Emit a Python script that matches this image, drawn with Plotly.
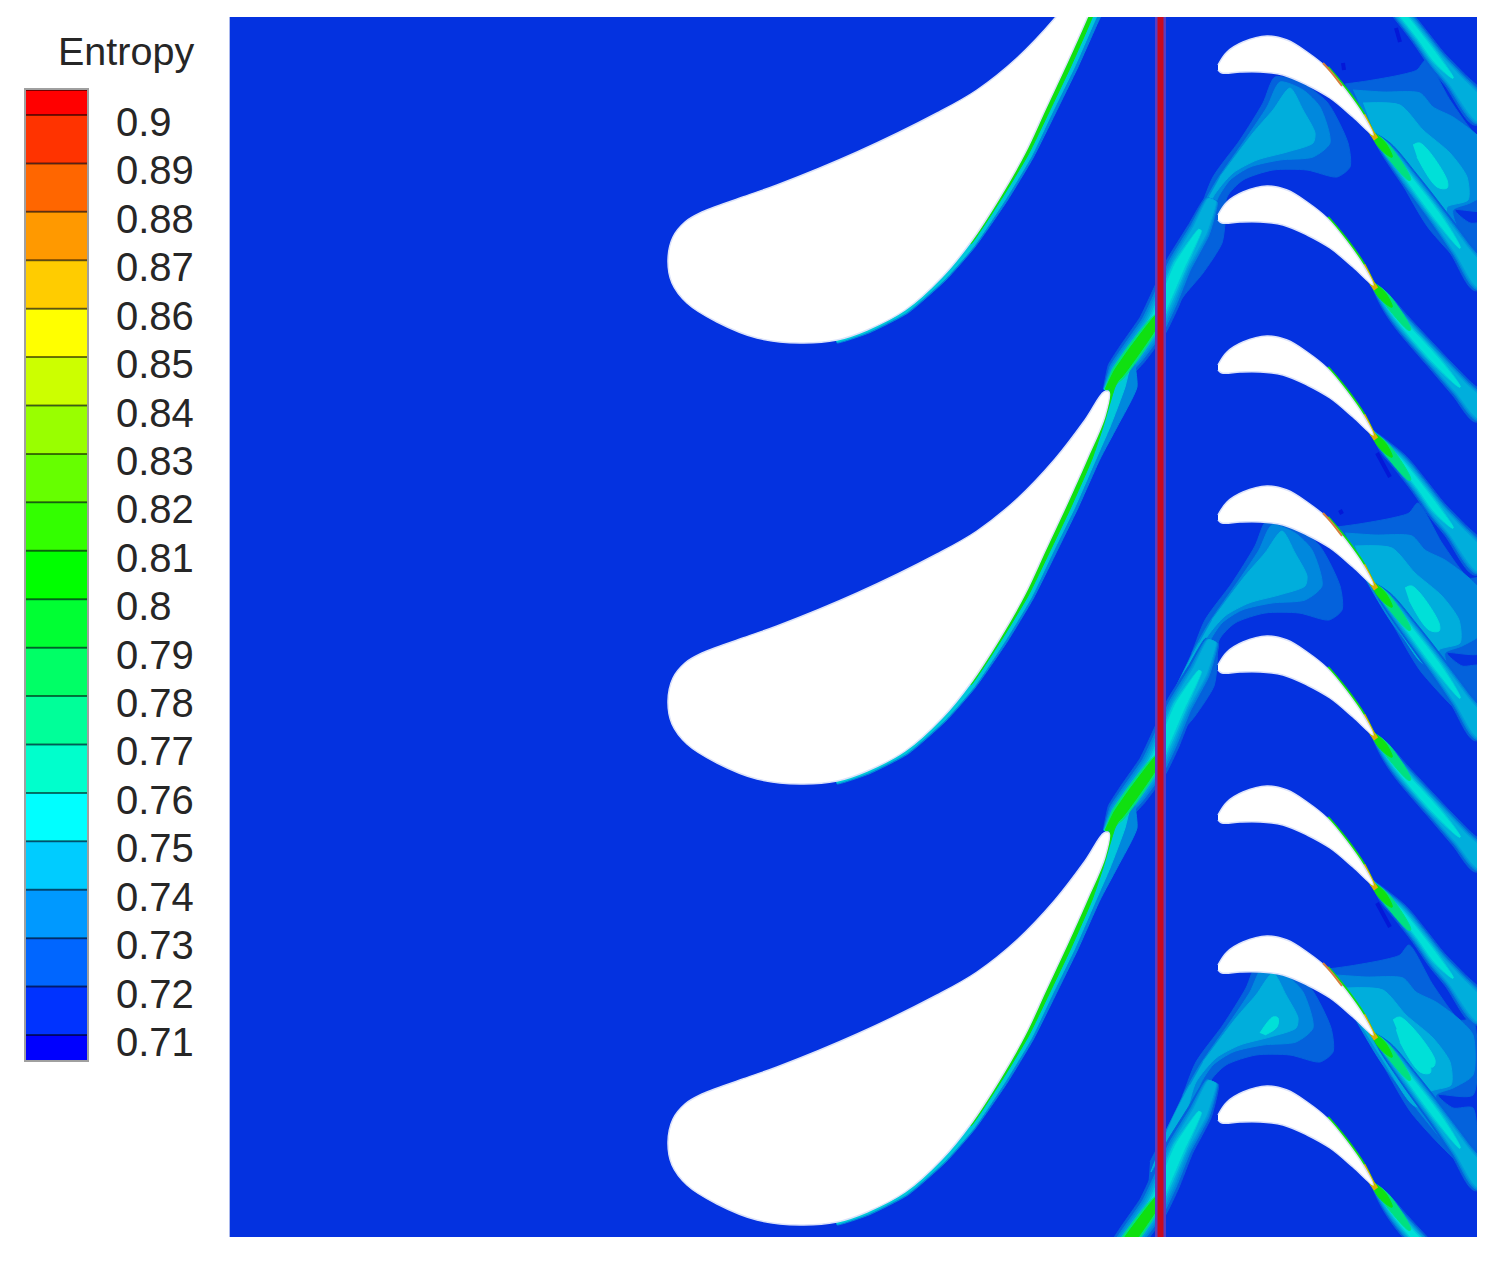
import math
import plotly.graph_objects as go

W, H = 1494, 1267
# field window in the page
FX0, FX1, FY0, FY1 = 229, 1477, 17, 1237

# colorbar
levels = [0.9, 0.89, 0.88, 0.87, 0.86, 0.85, 0.84, 0.83, 0.82, 0.81, 0.8,
          0.79, 0.78, 0.77, 0.76, 0.75, 0.74, 0.73, 0.72, 0.71]
level_labels = ["0.9", "0.89", "0.88", "0.87", "0.86", "0.85", "0.84", "0.83", "0.82", "0.81", "0.8",
                "0.79", "0.78", "0.77", "0.76", "0.75", "0.74", "0.73", "0.72", "0.71"]
band_edges = [0.90516] + levels + [0.70484]
band_colors = ["#ff0000", "#ff3300", "#ff6600", "#ff9900", "#ffcc00", "#ffff00", "#ccff00",
               "#99ff00", "#66ff00", "#33ff00", "#00ff00", "#00ff33", "#00ff66", "#00ff99",
               "#00ffcc", "#00ffff", "#00ccff", "#0099ff", "#0066ff", "#0033ff", "#0000ff"]

# contour shades as they look in the field
FIELD = "#0432e0"
DEEP = "#0462dc"
MID = "#0088dd"
MID2 = "#009cdc"
INNER = "#00aedc"
INNER2 = "#00c8da"
TEAL = "#00e0d8"
SPRING = "#00e080"
GREEN = "#10e010"

# stator blade outline
stator_x = [668, 673, 685, 700, 740, 777, 857, 937, 977, 1017, 1055, 1085, 1104, 1109, 1105, 1087,
            1066, 1045, 1025, 1000, 970, 942, 905, 867, 837, 800, 757, 717, 687, 672]
stator_y = [260, 237, 222, 213, 198, 185, 152, 113, 90, 58, 18, -21, -49, -49, -25, 18,
            65, 110, 153, 197, 243, 277, 310, 330, 340, 343, 338, 322, 303, 283]
stator_offsets = [0, 441, 882]

# colored skin on the stator pressure side, it runs on into the wake
skin_in_x = [837, 905, 970, 1025, 1066, 1087, 1105, 1109]
skin_in_y = [340, 310, 243, 153, 65, 18, -25, -49]
skin_mid_x = [1133, 1137, 1117, 1100, 1078, 1055, 1033, 1007, 975, 946, 908, 869, 837]
skin_mid_y = [-88, -54, -14, 18, 67, 114, 158, 201, 247, 280, 313, 333, 343]
skin_teal_x = [1133, 1125, 1110, 1096, 1075, 1052, 1031, 1005, 974, 945, 907, 868, 837]
skin_teal_y = [-88, -54, -14, 18, 66, 113, 157, 200, 246, 279, 312, 332, 342]
skin_green_x = [1118, 1109, 1105, 1087, 1066, 1045, 1025, 1000, 970, 971, 1002, 1028, 1049, 1071, 1092, 1103, 1115, 1122]
skin_green_y = [-67, -49, -25, 18, 65, 110, 153, 197, 243, 244, 198, 155, 112, 66, 18, -14, -54, -67]

# rotor blade outline
rotor_x = [1218, 1227, 1243, 1267, 1287, 1307, 1327, 1347, 1363, 1373, 1353, 1330, 1307, 1283, 1260, 1240, 1222, 1218]
rotor_y = [65, 52, 42, 36, 40, 52, 68, 92, 115, 135, 117, 98, 85, 75, 72, 72, 73, 70]
rotor_offsets = [0, 150, 300, 450, 600, 750, 900, 1050]
rotor_skin_x = [1327, 1347, 1363, 1373]
rotor_skin_y = [68, 92, 115, 135]
hot_x = [1323, 1332, 1342]
hot_y = [63, 73, 86]
hot_offsets = [0, 450, 900]

# stator wake, from the trailing edge to the rotor row
stem_x = [1105, 1118, 1133, 1153, 1165, 1180, 1200, 1212]
stem_y = [390, 372, 353, 325, 300, 265, 230, 200]
stem_w = [4, 24, 29, 30, 30, 28, 25, 14]
stem_core_w = [4, 24, 29, 30, 30, 30, 8]
stem_offsets = [0, 441, 882]
stem_green_x = [1106, 1118, 1133, 1153, 1158]
stem_green_y = [390, 374, 353, 325, 315]
stem_green_w = [2, 10, 11, 9, 3]

# contour blobs between the rotor blades
blob_deep_x = [1167, 1197, 1213, 1240, 1263, 1275, 1300, 1327, 1348, 1350, 1337, 1307, 1273, 1243, 1227, 1225, 1222, 1203, 1183, 1163]
blob_deep_y = [277, 217, 177, 140, 103, 77, 82, 102, 143, 167, 177, 170, 170, 180, 197, 223, 243, 273, 297, 330]
blob_mid_x = [1200, 1217, 1247, 1267, 1280, 1303, 1320, 1330, 1313, 1280, 1250, 1230, 1217, 1213, 1200, 1183, 1170, 1177]
blob_mid_y = [210, 180, 137, 107, 82, 90, 107, 143, 157, 160, 167, 180, 200, 223, 253, 277, 293, 257]
blob_inner_x = [1220, 1253, 1273, 1290, 1303, 1315, 1313, 1287, 1257, 1233, 1213, 1203, 1183, 1168, 1190, 1207]
blob_inner_y = [177, 133, 110, 88, 110, 133, 143, 152, 160, 173, 197, 227, 257, 287, 233, 200]

# contour blobs behind the rotor blades
back_deep_x = [1345, 1367, 1400, 1417, 1426, 1450, 1477, 1490, 1490, 1455, 1470, 1490, 1490, 1430, 1400, 1373]
back_deep_y = [84, 81, 75, 70, 60, 100, 135, 135, 210, 210, 223, 223, 287, 230, 180, 135]
back_mid_x = [1353, 1383, 1420, 1433, 1453, 1477, 1490, 1490, 1470, 1453, 1457, 1467, 1490, 1490, 1400, 1373]
back_mid_y = [90, 92, 93, 107, 117, 135, 150, 190, 203, 210, 227, 243, 265, 287, 180, 135]
back_inner_x = [1363, 1400, 1423, 1450, 1467, 1468, 1447, 1447, 1430, 1400, 1375]
back_inner_y = [103, 105, 130, 153, 177, 200, 207, 223, 220, 175, 135]
back_spot_x = [1413, 1420, 1447, 1447, 1437, 1417]
back_spot_y = [145, 143, 180, 188, 187, 157]
# drift of the stator pattern from one stator pitch to the next
pattern_shifts = [(0, 0), (-8, 443), (-17, 885)]

# extra spots in the lowest passage
low_spot_x = [1393, 1400, 1435, 1433, 1423, 1400]
low_spot_y = [1020, 1017, 1060, 1067, 1063, 1037]
low_blob_spot_x = [1260, 1273, 1278, 1277, 1265]
low_blob_spot_y = [1033, 1017, 1018, 1027, 1035]

# rotor wakes, three kinds that come back every 450 px
wake_a_x = [1371, 1385, 1410, 1440, 1460, 1485]
wake_a_y = [132, 147, 180, 220, 248, 284]
wake_a_w = [2, 13, 18, 20, 22, 24]
wake_a_core = [2, 13, 18, 20, 2]
wake_b_x = [1371, 1385, 1400, 1440, 1460, 1485]
wake_b_y = [282, 300, 320, 365, 387, 414]
wake_b_w = [2, 13, 17, 20, 22, 24]
wake_b_core = [2, 13, 17, 20, 2]
wake_c_x = [1371, 1385, 1400, 1420, 1437, 1453, 1485]
wake_c_y = [430, 447, 462, 487, 510, 528, 567]
wake_c_w = [2, 13, 17, 18, 20, 22, 26]
wake_c_core = [2, 13, 17, 18, 20, 2]
wake_offsets = [-450, 0, 450, 900]
spring_x = [1371, 1385, 1410]
spring_y = [132, 147, 180]
spring_w = [2, 9, 2]
green_x = [1371, 1382, 1392]
green_y = [132, 145, 157]
green_w = [2, 8, 1]
tip_x = [1370, 1376]
tip_y = [130, 139]

# little pockets under the base level
low_x = [[1396, 1400], [1343, 1344], [1377, 1390], [1377, 1390], [1340, 1342]]
low_y = [[28, 42], [63, 70], [453, 477], [903, 927], [510, 514]]


def shift(values, delta):
    return [v + delta for v in values]


def ribbon(x, y, w, scale=1.0):
    """Closed outline around a centre line, w is the full width at each point."""
    left_x, left_y, right_x, right_y = [], [], [], []
    n = len(w)
    for i in range(n):
        a, b = max(i - 1, 0), min(i + 1, n - 1)
        dx, dy = x[b] - x[a], y[b] - y[a]
        norm = math.hypot(dx, dy)
        half = w[i] * scale / 2
        left_x.append(x[i] - dy / norm * half)
        left_y.append(y[i] + dx / norm * half)
        right_x.append(x[i] + dy / norm * half)
        right_y.append(y[i] - dx / norm * half)
    return left_x + right_x[::-1], left_y + right_y[::-1]


fig = go.Figure()


def add_poly(x, y, color, edge=None, edge_w=1, smoothing=1.0):
    fig.add_trace(go.Scatter(x=x, y=y, mode="lines", fill="toself", fillcolor=color,
                             line=dict(color=edge or color, width=edge_w, shape="spline", smoothing=smoothing),
                             hoverinfo="skip", showlegend=False))


def add_line(x, y, color, width):
    fig.add_trace(go.Scatter(x=x, y=y, mode="lines",
                             line=dict(color=color, width=width, shape="spline", smoothing=1.0),
                             hoverinfo="skip", showlegend=False))


# blobs
for dx, dy in pattern_shifts:
    add_poly(shift(back_deep_x, dx), shift(back_deep_y, dy), DEEP, smoothing=0.7)
    add_poly(shift(back_mid_x, dx), shift(back_mid_y, dy), MID, smoothing=0.7)
    add_poly(shift(back_inner_x, dx), shift(back_inner_y, dy), INNER, smoothing=0.7)
    add_poly(shift(back_spot_x, dx), shift(back_spot_y, dy), TEAL)
    add_poly(shift(blob_deep_x, dx), shift(blob_deep_y, dy), DEEP, smoothing=0.7)
    add_poly(shift(blob_mid_x, dx), shift(blob_mid_y, dy), MID, smoothing=0.7)
    add_poly(shift(blob_inner_x, dx), shift(blob_inner_y, dy), INNER, smoothing=0.7)
add_poly(low_spot_x, low_spot_y, TEAL)
add_poly(low_blob_spot_x, low_blob_spot_y, TEAL)

# rotor wakes
for off in wake_offsets:
    for wx, wy, ww, wc in [(wake_a_x, wake_a_y, wake_a_w, wake_a_core),
                           (wake_b_x, wake_b_y, wake_b_w, wake_b_core),
                           (wake_c_x, wake_c_y, wake_c_w, wake_c_core)]:
        for color, scale in [(DEEP, 1.0), (MID, 0.82), (MID2, 0.7), (INNER, 0.58)]:
            rx, ry = ribbon(wx, shift(wy, off), ww, scale)
            add_poly(rx, ry, color)
        for color, scale in [(INNER2, 0.44), (TEAL, 0.3)]:
            rx, ry = ribbon(wx, shift(wy, off), wc, scale)
            add_poly(rx, ry, color)
for off in rotor_offsets:
    rx, ry = ribbon(spring_x, shift(spring_y, off), spring_w)
    add_poly(rx, ry, SPRING)
    rx, ry = ribbon(green_x, shift(green_y, off), green_w)
    add_poly(rx, ry, GREEN)
    add_line(tip_x, shift(tip_y, off), "#e0b000", 5)

# stator wakes
for off in stem_offsets:
    add_poly(skin_mid_x + skin_in_x, shift(skin_mid_y + skin_in_y, off), MID, smoothing=0.5)
    add_poly(skin_teal_x + skin_in_x, shift(skin_teal_y + skin_in_y, off), INNER2, smoothing=0.5)
    for color, scale in [(DEEP, 1.0), (MID, 0.82), (MID2, 0.68), (INNER, 0.56)]:
        rx, ry = ribbon(stem_x, shift(stem_y, off), stem_w, scale)
        add_poly(rx, ry, color, smoothing=0.4)
    for color, scale in [(INNER2, 0.44), (TEAL, 0.32)]:
        rx, ry = ribbon(stem_x, shift(stem_y, off), stem_core_w, scale)
        add_poly(rx, ry, color, smoothing=0.4)

for lx, ly in zip(low_x, low_y):
    add_line(lx, ly, "#0418d8", 4)

# blade skins and blades
for off in stator_offsets:
    add_poly(skin_green_x, shift(skin_green_y, off), GREEN, smoothing=0.5)
    rx, ry = ribbon(stem_green_x, shift(stem_green_y, off), stem_green_w, 1.4)
    add_poly(rx, ry, SPRING, smoothing=0.4)
    rx, ry = ribbon(stem_green_x, shift(stem_green_y, off), stem_green_w)
    add_poly(rx, ry, GREEN, smoothing=0.4)
    add_poly(stator_x + stator_x[:1], shift(stator_y + stator_y[:1], off), "#ffffff", edge="#dce3fa", edge_w=1.5)
for off in rotor_offsets:
    add_line(rotor_skin_x, shift(rotor_skin_y, off), GREEN, 5)
    add_line(rotor_skin_x[2:], shift(rotor_skin_y[2:], off), "#e0b000", 5)
    add_poly(rotor_x, shift(rotor_y, off), "#ffffff", edge="#dce3fa", edge_w=1.5)
for off in hot_offsets:
    add_line(hot_x, shift(hot_y, off), "#d8803c", 2)

# interface line and the soft left border of the field
add_line([1160.5, 1160.5], [FY0, FY1], "#5a3cc0", 11)
add_line([1160.5, 1160.5], [FY0, FY1], "#c80a1e", 6)
add_line([FX0, FX0], [FY0, FY1], "#a9b8ee", 2)

# colorbar
fig.add_trace(go.Bar(x=[0] * len(band_colors),
                     y=[band_edges[i] - band_edges[i + 1] for i in range(len(band_colors))],
                     base=band_edges[1:], width=1, marker=dict(color=band_colors, line=dict(width=0)),
                     xaxis="x2", yaxis="y2", hoverinfo="skip", showlegend=False))
for lvl in band_edges[:-1]:
    fig.add_trace(go.Scatter(x=[-0.5, 0.5], y=[lvl, lvl], mode="lines", xaxis="x2", yaxis="y2",
                             line=dict(color="rgba(0,0,0,0.55)", width=2),
                             hoverinfo="skip", showlegend=False))

annotations = [dict(x=114 / W, y=lvl, xref="paper", yref="y2", text=lab, showarrow=False,
                    xanchor="left", yshift=-7, font=dict(family="Liberation Sans", size=40, color="#262626"))
               for lvl, lab in zip(levels, level_labels)]
annotations.append(dict(x=196 / W, y=1 - 51 / H, xref="paper", yref="paper", text="Entropy", showarrow=False,
                        xanchor="right", yanchor="middle", font=dict(family="Liberation Sans", size=39.5, color="#262626")))

fig.update_layout(
    width=W, height=H, autosize=False,
    margin=dict(l=0, r=0, t=0, b=0),
    paper_bgcolor="white", plot_bgcolor=FIELD,
    barmode="overlay",
    annotations=annotations,
    xaxis=dict(domain=[FX0 / W, FX1 / W], range=[FX0, FX1], visible=False),
    yaxis=dict(domain=[1 - FY1 / H, 1 - FY0 / H], range=[FY1, FY0], visible=False),
    xaxis2=dict(domain=[26 / W, 87 / W], range=[-0.5, 0.5], anchor="y2", showticklabels=False, ticks="",
                showgrid=False, zeroline=False, showline=True, mirror=True, linecolor="#a0a0a0", linewidth=2),
    yaxis2=dict(domain=[1 - 1060 / H, 1 - 90 / H], range=[band_edges[-1], band_edges[0]], anchor="x2",
                showticklabels=False, ticks="", showgrid=False, zeroline=False,
                showline=True, mirror=True, linecolor="#a0a0a0", linewidth=2),
)

fig.write_html("out.html", post_script="document.body.style.margin='0';", config=dict(displayModeBar=False))
